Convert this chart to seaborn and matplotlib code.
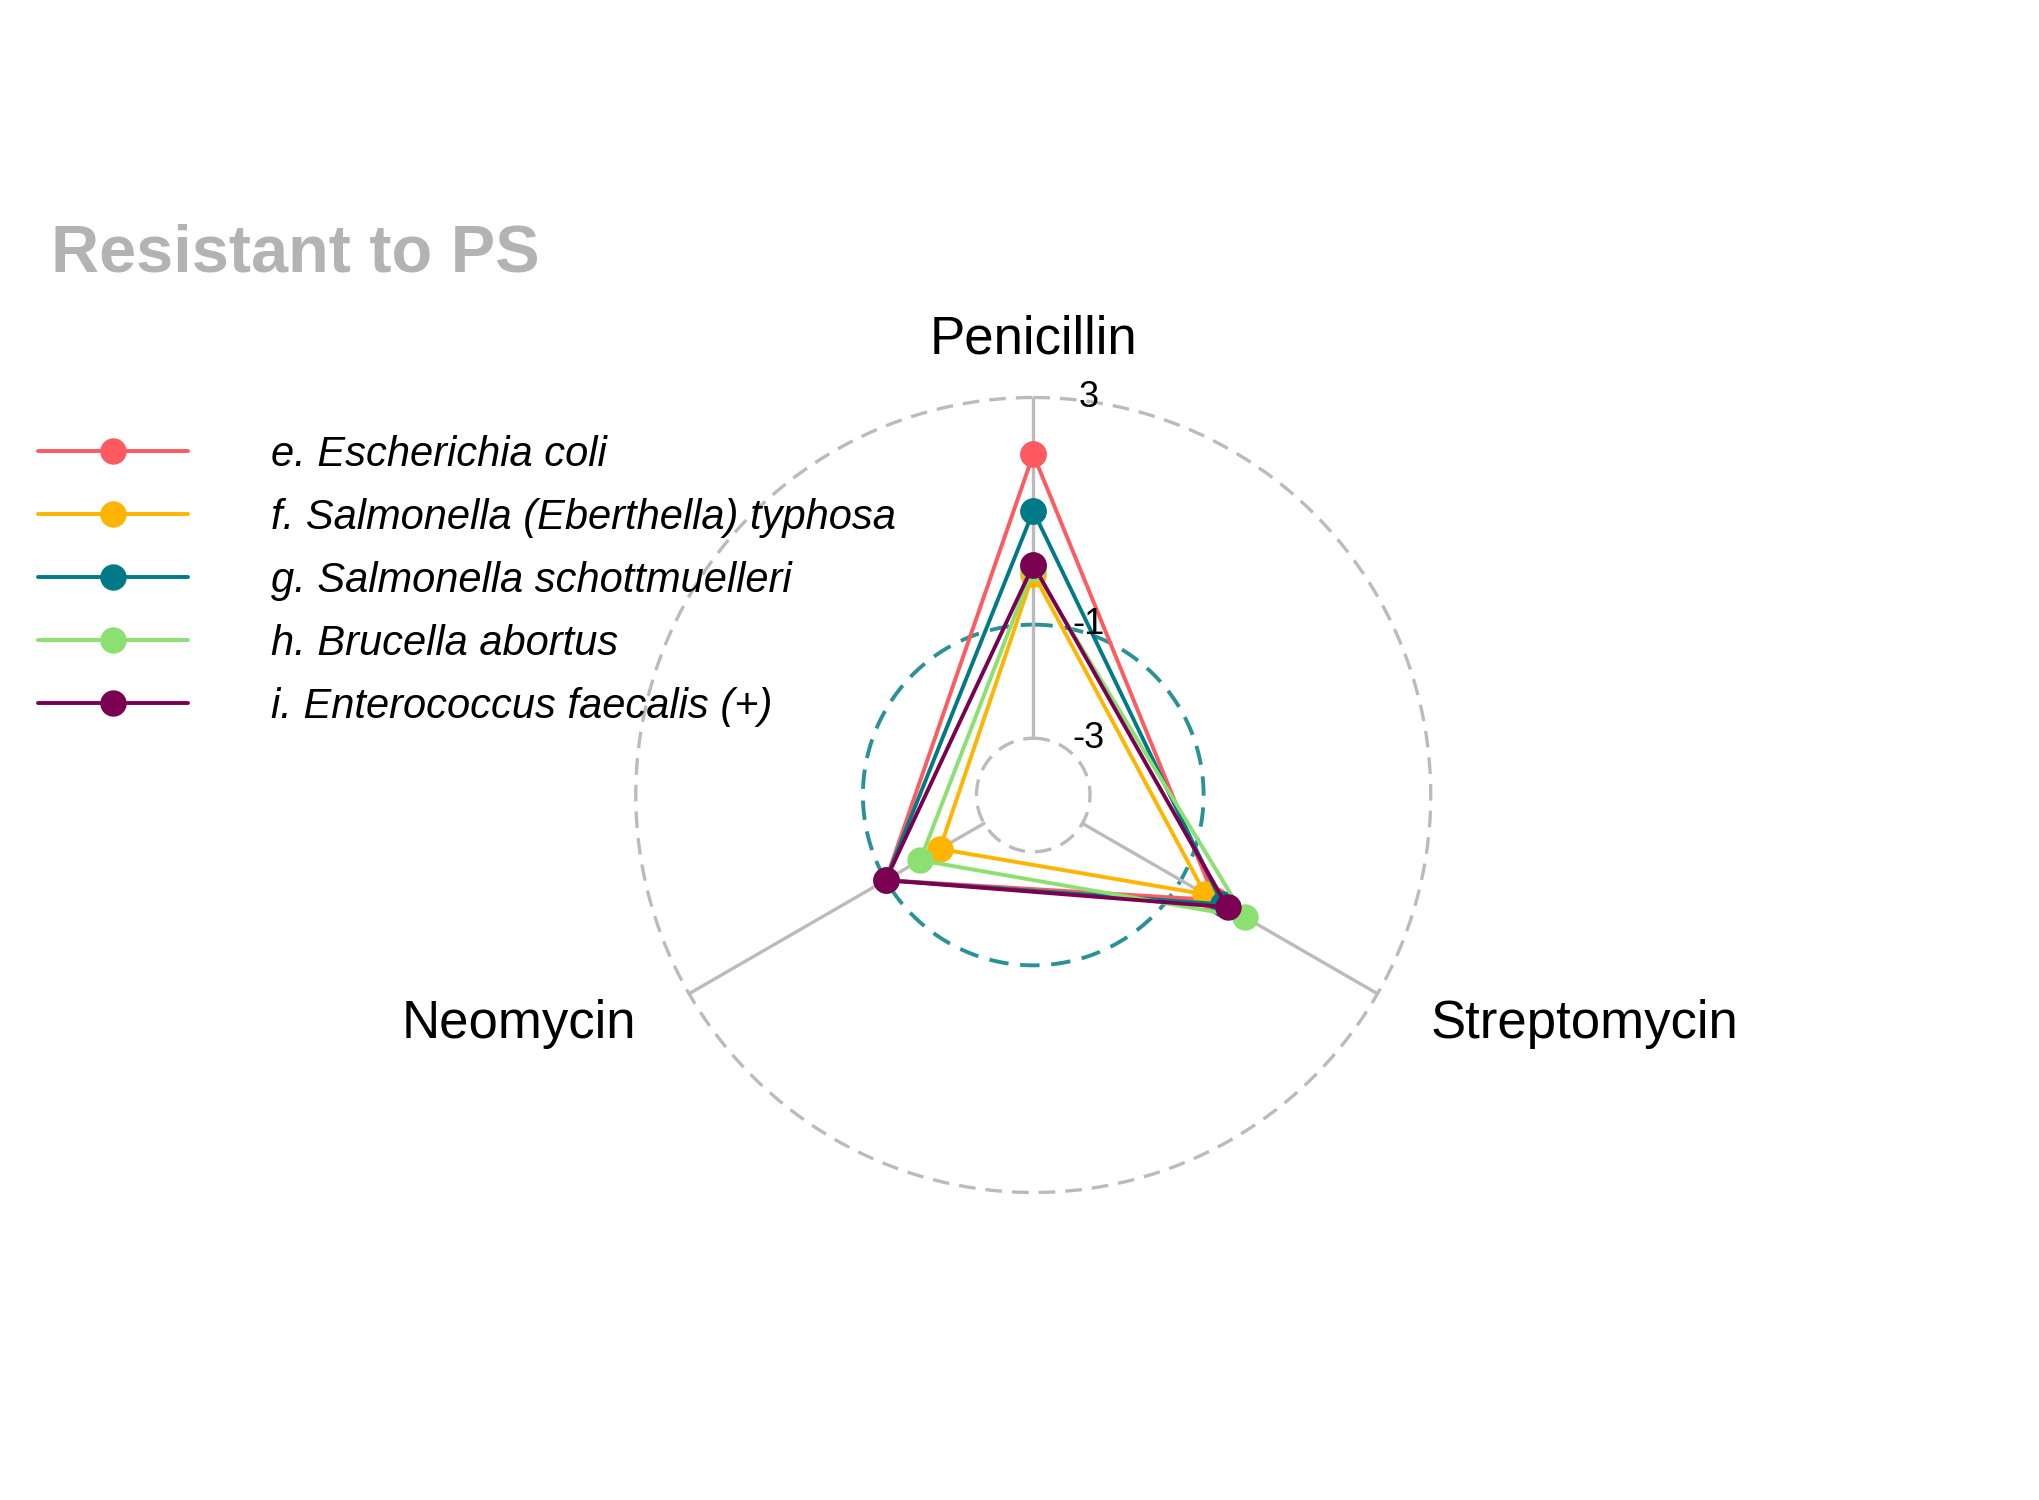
import numpy as np
import matplotlib
matplotlib.use("Agg")
import matplotlib.pyplot as plt
import matplotlib.transforms as mtransforms
import seaborn as sns

categories = ["Penicillin", "Streptomycin", "Neomycin"]
series_names = [
    "e. Escherichia coli",
    "f. Salmonella (Eberthella) typhosa",
    "g. Salmonella schottmuelleri",
    "h. Brucella abortus",
    "i. Enterococcus faecalis (+)",
]
values = {
    "e. Escherichia coli": [2.0, -0.3, -1.0],
    "f. Salmonella (Eberthella) typhosa": [-0.1, -0.5, -2.1],
    "g. Salmonella schottmuelleri": [1.0, -0.15, -1.0],
    "h. Brucella abortus": [0.0, 0.3, -1.7],
    "i. Enterococcus faecalis (+)": [0.05, -0.05, -1.0],
}
colors = ["#FF5A5F", "#FFB400", "#007A87", "#8CE071", "#7B0051"]
tick_values = [-3, -1, 3]

sns.set_style("white")
plt.rcParams["font.family"] = ["Liberation Sans", "DejaVu Sans"]
plt.rcParams["text.color"] = "black"

fig = plt.figure(figsize=(10.2, 7.5), dpi=200)
ax = fig.add_axes([0.311, 0.205, 0.391, 0.53], projection="polar")
ax.set_theta_offset(np.pi / 2)
ax.set_theta_direction(-1)
ax.set_ylim(-4, 3)

angles = np.linspace(0, 2 * np.pi, len(categories), endpoint=False)
full = np.linspace(0, 2 * np.pi, 400)

ax.plot(full, np.full_like(full, -3), ls=(0, (5, 3)), color="#bbbbbb", lw=1.2, zorder=1)
ax.plot(full, np.full_like(full, 3), ls=(0, (5, 3)), color="#bbbbbb", lw=1.2, zorder=1, clip_on=False)
ax.plot(full, np.full_like(full, -1), ls=(0, (5, 3)), color="#2a9297", lw=1.4, zorder=1)
for a in angles:
    ax.plot([a, a], [-3, 3], color="#bbbbbb", lw=1.2, zorder=1)

for name, c in zip(series_names, colors):
    v = values[name] + values[name][:1]
    t = list(angles) + [angles[0]]
    ax.plot(t, v, color=c, lw=1.4, marker="o", markersize=8.5, label=name, zorder=3, clip_on=False)

ax.grid(False)
ax.spines["polar"].set_visible(False)
ax.set_xticks([])
ax.set_yticks([])

# category labels placed relative to spoke ends
label_offsets = [(0, 21, "center", "center"), (19, -11, "left", "center"), (-19, -11, "right", "center")]
for a, cat, (dx, dy, ha, va) in zip(angles, categories, label_offsets):
    tr = mtransforms.offset_copy(ax.transData, fig=fig, x=dx, y=dy, units="points")
    ax.text(a, 3, cat, transform=tr, fontsize=19, ha=ha, va=va, clip_on=False)

for tv in tick_values:
    tr = mtransforms.offset_copy(ax.transData, fig=fig, x=20, y=0, units="points")
    ax.text(0, tv, str(tv), transform=tr, fontsize=13, ha="center", va="center", zorder=4, clip_on=False)

fig.text(0.025, 0.83, "Resistant to PS", fontsize=24, fontweight="bold", color="#b3b3b3", va="center")
leg = fig.legend(loc="upper left", bbox_to_anchor=(0.0, 0.735), frameon=False, fontsize=15,
                 handlelength=3.6, handletextpad=2.0, labelspacing=0.55)
for t in leg.get_texts():
    t.set_fontstyle("italic")

fig.savefig("out.png")
